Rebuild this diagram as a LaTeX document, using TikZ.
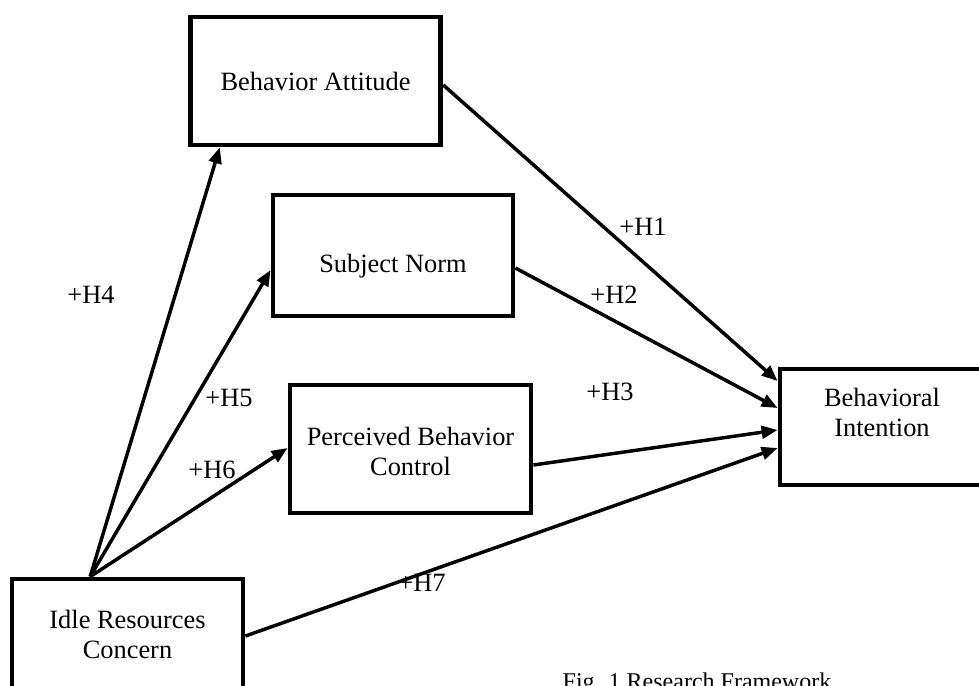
\documentclass[tikz,border=0pt]{standalone}
\usepackage{fontspec}
\setmainfont{Liberation Serif}
\usetikzlibrary{arrows.meta}
\tikzstyle{factor} = [draw=black, line width=3.6pt,
                      rectangle, inner sep=0pt]
\tikzstyle{factortext} = [align=center, inner sep=0pt]
\tikzstyle{hpath} = [draw=black, line width=2.6pt,
                     -{Triangle[length=12pt,width=9.5pt]}]
\tikzstyle{hlabel} = [inner sep=0pt]

\begin{document}
\begin{tikzpicture}[x=0.75pt, y=-0.75pt,
    font=\fontsize{19.8}{22.5}\selectfont]%
  \useasboundingbox (0,0) rectangle (979,686);
  % the five constructs
  \node [factor, minimum width=188pt, minimum height=96pt] (ba) at (315.5,81) {};
  \node [factortext] at (ba.center) {Behavior Attitude};
  \node [factor, minimum width=180pt, minimum height=90.75pt] (sn) at (393,255.5) {};
  \node [factortext] at ([yshift=-8pt]sn.center) {Subject Norm};
  \node [factor, minimum width=180.75pt, minimum height=96pt] (pbc) at (410.5,449) {};
  \node [factortext] at ([yshift=-1.5pt]pbc.center) {Perceived Behavior\\Control};
  \node [factor, minimum width=153pt, minimum height=87pt] (bi) at (882,427) {};
  \node [factortext] at ([yshift=11pt]bi.center) {Behavioral\\Intention};
  \node [factor, minimum width=173.25pt, minimum height=85.5pt] (irc) at (127.5,636) {};
  \node [factortext] at ([yshift=1pt]irc.center) {Idle Resources\\Concern};
  \coordinate (src) at ([xshift=-28pt]irc.north);
  % hypotheses
  \draw [hpath] ([yshift=-3pt]ba.east) -- ([yshift=34.5pt]bi.west);
  \draw [hpath] ([yshift=-9.4pt]sn.east) -- ([yshift=14.25pt]bi.west);
  \draw [hpath] ([yshift=-12pt]pbc.east) -- ([yshift=-2.25pt]bi.west);
  \draw [hpath] (src) -- ([xshift=24pt]ba.south west);
  \draw [hpath] (src) -- ([yshift=-10.9pt]sn.west);
  \draw [hpath] (src) -- ([yshift=0.75pt]pbc.west);
  \draw [hpath] (irc.east) -- ([yshift=-15.75pt]bi.west);
  \node [hlabel] (h1) at (643,227) {+H1};
  \node [hlabel] (h2) at (614,295) {+H2};
  \node [hlabel] (h3) at (610,392) {+H3};
  \node [hlabel] (h4) at (91,295) {+H4};
  \node [hlabel] (h5) at (229,398) {+H5};
  \node [hlabel] (h6) at (212,470) {+H6};
  \node [hlabel] (h7) at (422,583) {+H7};
  \node [anchor=base, inner sep=0pt, font=\fontsize{18}{22}\selectfont] (caption)
    at (697,689) {Fig. 1 Research Framework};
\end{tikzpicture}
\end{document}
